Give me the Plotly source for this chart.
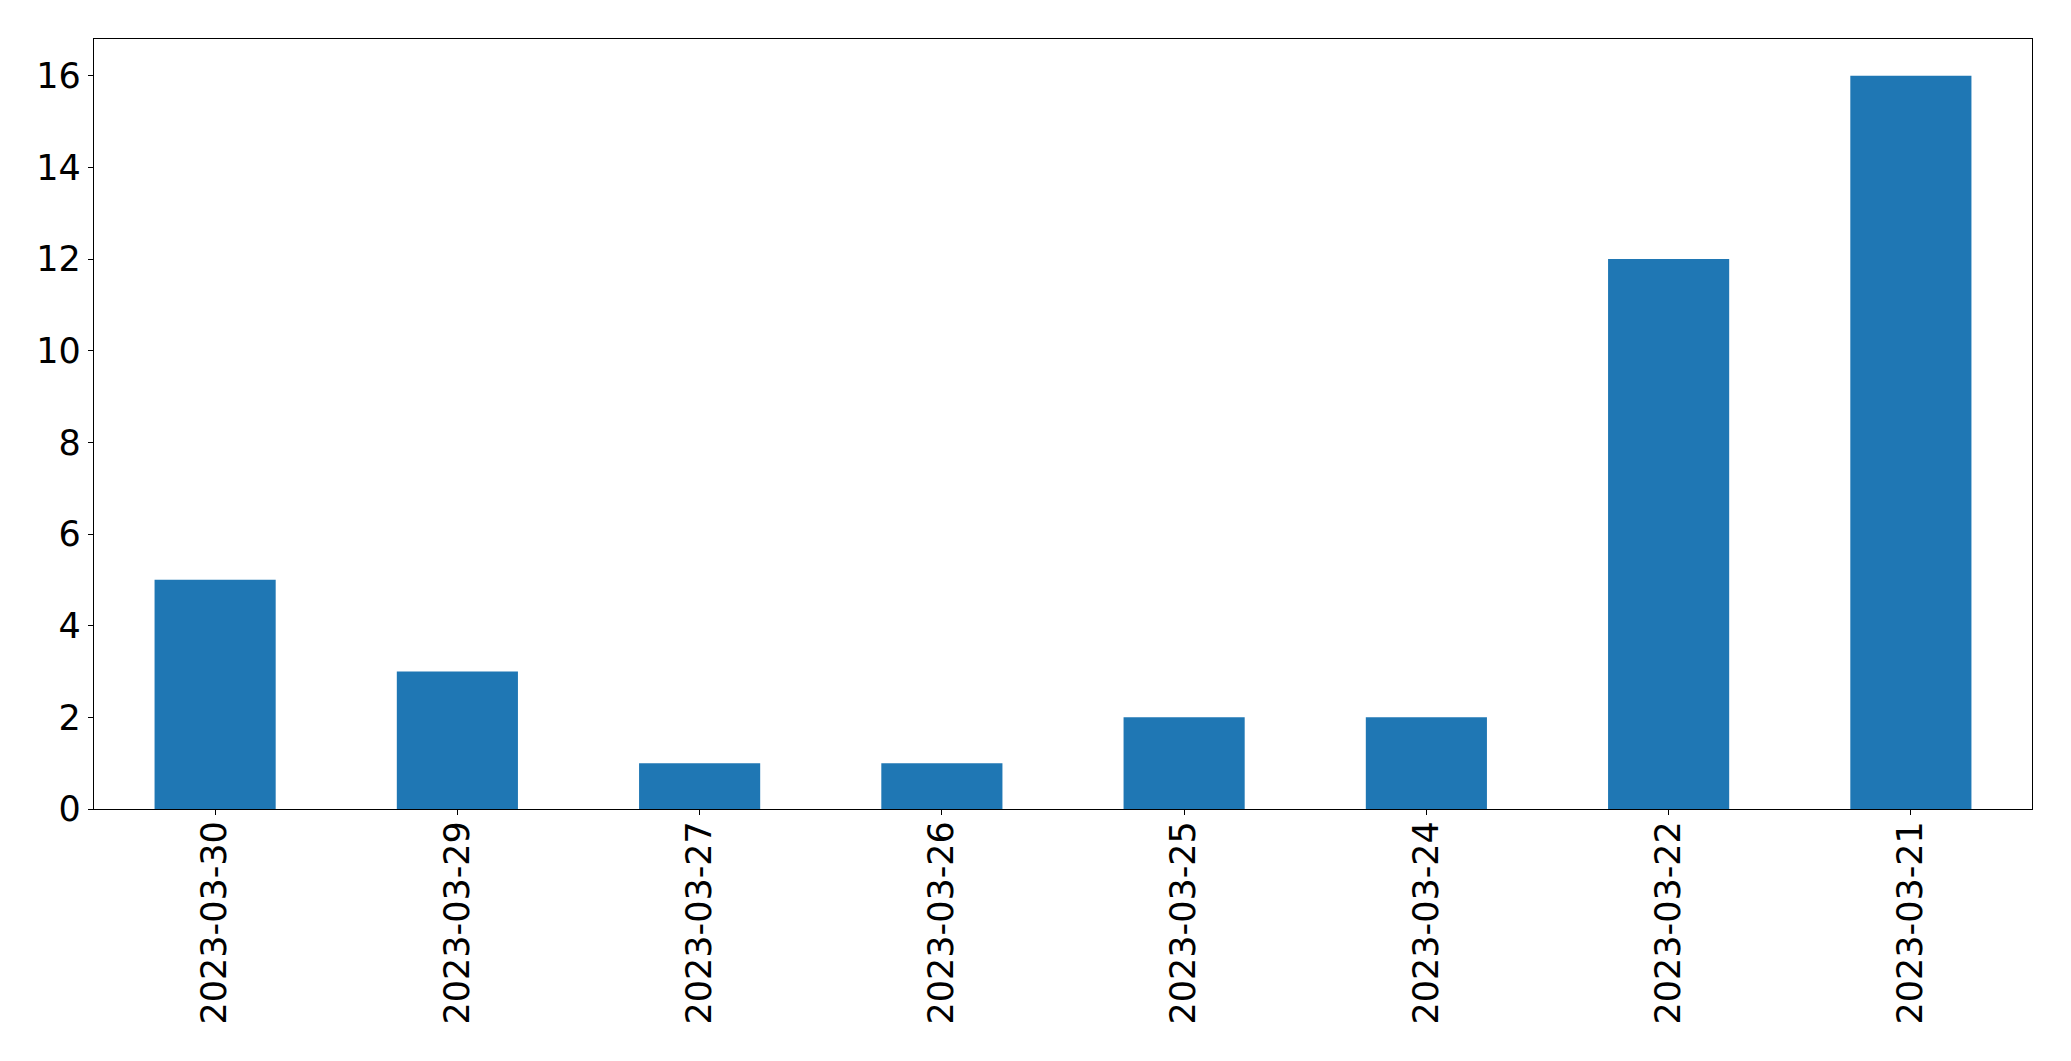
import plotly.graph_objects as go

dates = ["2023-03-30", "2023-03-29", "2023-03-27", "2023-03-26",
         "2023-03-25", "2023-03-24", "2023-03-22", "2023-03-21"]
counts = [5, 3, 1, 1, 2, 2, 12, 16]
y_ticks = [0, 2, 4, 6, 8, 10, 12, 14, 16]

fig = go.Figure(go.Bar(x=dates, y=counts, marker_color="#1f77b4",
                       marker_line_width=0, width=0.5))

axis_common = dict(showline=True, linecolor="black", linewidth=1.3, mirror=True,
                   ticks="outside", ticklen=5, tickwidth=1.3, tickcolor="black",
                   showgrid=False, zeroline=False,
                   tickfont=dict(family="DejaVu Sans", size=35, color="black"))

fig.update_layout(
    width=2071, height=1061,
    margin=dict(l=86, r=47, t=31, b=260, autoexpand=False),
    paper_bgcolor="white", plot_bgcolor="white",
    showlegend=False,
    xaxis=dict(type="category", range=[-0.5, 7.5], tickangle=-90,
               ticklabelstandoff=-8, **axis_common),
    yaxis=dict(range=[0, 16.8], tickvals=y_ticks, **axis_common),
)

fig.write_html("out.html")
